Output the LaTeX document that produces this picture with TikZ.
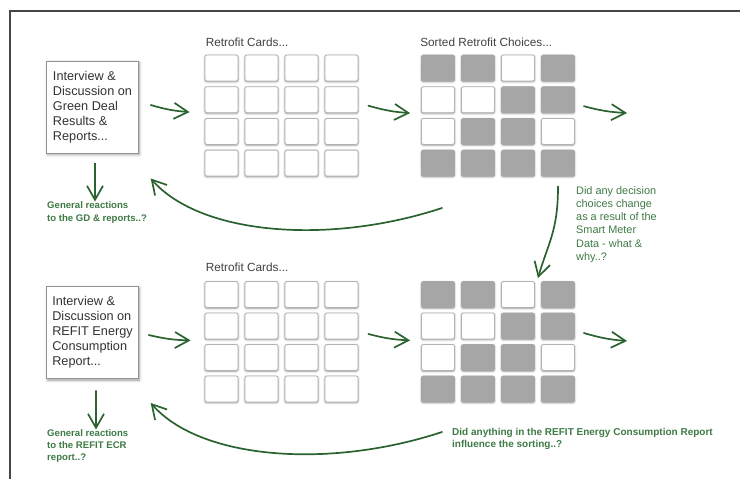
\documentclass[tikz,border=0pt]{standalone}
\usepackage{fontspec}
\setmainfont{Liberation Sans}
\usepackage{tikz}
\usetikzlibrary{
    positioning,
    arrows.meta,
    calc,
    shadows.blur
}

\definecolor{arrowgreen}{RGB}{42,98,48}
\definecolor{notegreen}{RGB}{62,122,68}
\colorlet{cardon}{gray!70}

\tikzset{
    cardw/.style={draw=gray!60, line width=0.8pt, fill=white, rounded corners=2pt,
        minimum width=33pt, minimum height=26pt, inner sep=0pt,
        blur shadow={shadow xshift=0pt, shadow yshift=-0.8pt, shadow blur radius=2pt, shadow opacity=45}},
    cardg/.style={cardw, draw=cardon, fill=cardon},
    talkbox/.style={draw=gray!85, line width=0.9pt, fill=white, minimum width=91.5pt, minimum height=92pt,
        align=left, text=black!80, font=\fontsize{12.7}{15}\selectfont,
        blur shadow={shadow xshift=1pt, shadow yshift=-1.5pt, shadow blur radius=3pt, shadow opacity=40}},
    greenarrow/.style={arrowgreen, line width=1.7pt, line cap=round,
        -{Straight Barb[length=14pt, width=16pt, line width=1.7pt]}},
    heading/.style={text=black!75, inner sep=0pt, anchor=base west, font=\fontsize{11.8}{14}\selectfont},
    note/.style={notegreen, inner sep=0pt, anchor=north west, align=left, font=\fontsize{10.9}{13.3}\selectfont},
    boldnote/.style={note, font=\fontsize{9.6}{13.3}\selectfont\bfseries}
}

\begin{document}
\begin{tikzpicture}[x=1pt, y=1pt]
    \useasboundingbox (0,0) rectangle (740,-479);
    % frame
    \draw[gray!55!black, line width=1.2pt] (740,-11) -- (10,-11) -- (10,-479);

    % interview boxes
    \node[talkbox] (talk1) at (92.5,-107) {Interview \&\\Discussion on\\Green Deal\\Results \&\\Reports...};
    \node[talkbox] (talk2) at (92.5,-332.5) {Interview \&\\Discussion on\\REFIT Energy\\Consumption\\Report...};

    % retrofit cards
    \foreach \r in {1,...,4}
        \foreach \c in {1,...,4} {
            \node[cardw] (cards1-\r-\c) at ({221.5+40*(\c-1)}, {-68-31.7*(\r-1)}) {};
            \node[cardw] (cards2-\r-\c) at ({221.5+40*(\c-1)}, {-294.5-31.5*(\r-1)}) {};
        }

    % sorted choices
    \foreach \s [count=\i from 0] in {cardg,cardg,cardw,cardg, cardw,cardw,cardg,cardg,
                                      cardw,cardg,cardg,cardw, cardg,cardg,cardg,cardg} {
        \pgfmathtruncatemacro{\r}{floor(\i/4)+1}
        \pgfmathtruncatemacro{\c}{mod(\i,4)+1}
        \node[\s] (sorted1-\r-\c) at ({438+40*(\c-1)}, {-68-31.7*(\r-1)}) {};
        \node[\s] (sorted2-\r-\c) at ({438+40*(\c-1)}, {-294.5-31.5*(\r-1)}) {};
    }

    \node[heading] (cardslabel1) at ([shift={(1pt,8.5pt)}]cards1-1-1.north west) {Retrofit Cards...};
    \node[heading] (cardslabel2) at ([shift={(1pt,9.5pt)}]cards2-1-1.north west) {Retrofit Cards...};
    \node[heading] (sortedlabel1) at ([shift={(-1pt,8.5pt)}]sorted1-1-1.north west) {Sorted Retrofit Choices...};

    % green notes
    \node[boldnote] (react1) at (47,-201.5) {General reactions\\to the GD \& reports..?};
    \node[boldnote, font=\fontsize{9.6}{12}\selectfont\bfseries] (react2) at (47,-429.5) {General reactions\\to the REFIT ECR\\report..?};
    \node[note] (smartq) at (576,-186) {Did any decision\\choices change\\as a result of the\\Smart Meter\\Data - what \&\\why..?};
    \begin{scope}
        \clip (445,-420) rectangle (740,-448);
        \node[boldnote, font=\fontsize{10}{12}\selectfont\bfseries] (sortq) at (452,-428) {Did anything in the REFIT Energy Consumption Report\\influence the sorting..?};
    \end{scope}

    % arrows along each row
    \coordinate (out1) at (627,-113);
    \coordinate (out2) at (627,-341);
    \draw[greenarrow] ([shift={(12pt,2pt)}]talk1.east) to[bend right=6] ([shift={(-15pt,1pt)}]cards1-2-1.south west);
    \draw[greenarrow] ([shift={(10pt,-6pt)}]cards1-2-4.east) to[bend right=6] ([shift={(-11pt,0pt)}]sorted1-2-1.south west);
    \draw[greenarrow] ([shift={(9pt,-6.5pt)}]sorted1-2-4.east) to[bend right=6] (out1);
    \draw[greenarrow] ([shift={(10pt,-2.5pt)}]talk2.east) to[bend right=6] ([shift={(-14pt,-1pt)}]cards2-2-1.south west);
    \draw[greenarrow] ([shift={(10pt,-8pt)}]cards2-2-4.east) to[bend right=6] ([shift={(-11pt,-1pt)}]sorted2-2-1.south west);
    \draw[greenarrow] ([shift={(9pt,-7pt)}]sorted2-2-4.east) to[bend right=6] (out2);

    % down to the reactions
    \draw[greenarrow] ([shift={(2.5pt,-10pt)}]talk1.south) -- ([xshift=2.5pt]talk1.south |- react1.north) ;
    \draw[greenarrow] ([shift={(3.5pt,-12pt)}]talk2.south) -- ([xshift=3.5pt]talk2.south |- react2.north);

    % back to the interviews
    \coordinate (back1) at (442,-208);
    \coordinate (back2) at ([shift={(-10pt,-4pt)}]sortq.north west);
    \draw[greenarrow] (back1) .. controls +(-112,-37) and +(50,-57) .. ([shift={(12pt,-25pt)}]talk1.south east);
    \draw[greenarrow] (back2) .. controls +(-112,-37) and +(50,-57) .. ([shift={(12pt,-24pt)}]talk2.south east);

    % from the first sort to the second
    \draw[greenarrow] ([yshift=-10pt]sorted1-4-4.south) .. controls +(0,-45) and +(10,35) .. ([shift={(-20pt,3pt)}]sorted2-1-4.north);
\end{tikzpicture}
\end{document}
